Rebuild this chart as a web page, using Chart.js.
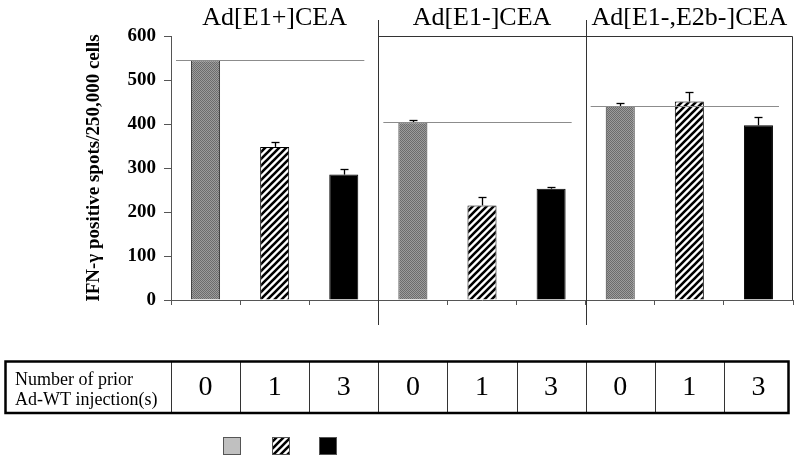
<!DOCTYPE html>
<html><head><meta charset="utf-8">
<script src="https://cdn.jsdelivr.net/npm/chart.js@4/dist/chart.umd.min.js"></script>
<style>html,body{margin:0;padding:0;background:#fff;}#wrap{position:relative;width:800px;height:464px;}</style>
</head><body><div id="wrap"><canvas id="c" width="800" height="464"></canvas></div>
<script>
// ---- data ----
const groups = ["Ad[E1+]CEA", "Ad[E1-]CEA", "Ad[E1-,E2b-]CEA"];
const injections = ["0", "1", "3"];
const spots = [545, 348, 285, 404, 215, 253, 441, 451, 397];
const errUp = [0, 11, 13, 4, 19, 4, 7, 22, 20];
const yTicks = [0, 100, 200, 300, 400, 500, 600];
const rowLabel = ["Number of prior", "Ad-WT injection(s)"];
const yTitle = "IFN-\u03b3 positive spots/250,000 cells";
const labels = groups.flatMap(() => injections);

const SERIF = "'Liberation Serif','Times New Roman',serif";

function makeGray() {
  const c = document.createElement('canvas'); c.width = 2; c.height = 2;
  const g = c.getContext('2d');
  g.fillStyle = '#9c9c9c'; g.fillRect(0, 0, 2, 2);
  g.fillStyle = '#6c6c6c'; g.fillRect(0, 0, 1, 1); g.fillRect(1, 1, 1, 1);
  return g.createPattern(c, 'repeat');
}
function makeHatch() {
  const s = 7;
  const c = document.createElement('canvas'); c.width = s; c.height = s;
  const g = c.getContext('2d');
  g.fillStyle = '#fff'; g.fillRect(0, 0, s, s);
  g.strokeStyle = '#000'; g.lineWidth = 2.6;
  g.beginPath();
  g.moveTo(0, s); g.lineTo(s, 0);
  g.moveTo(-1, 1); g.lineTo(1, -1);
  g.moveTo(s - 1, s + 1); g.lineTo(s + 1, s - 1);
  g.stroke();
  return g.createPattern(c, 'repeat');
}
const grayPat = makeGray();
const hatchPat = makeHatch();
const fills = [grayPat, hatchPat, '#000'];
const borders = ['#333', '#000', '#000'];
const legendFills = ['#c0c0c0', hatchPat, '#000'];

const deco = {
  id: 'deco',
  afterDatasetsDraw(chart) {
    const ctx = chart.ctx, xs = chart.scales.x, ys = chart.scales.y, ca = chart.chartArea;
    const cw = xs.getPixelForValue(1) - xs.getPixelForValue(0);
    const edge = i => xs.getPixelForValue(i) - cw / 2;
    const line = (a, b, c, d) => { ctx.beginPath(); ctx.moveTo(a, b); ctx.lineTo(c, d); ctx.stroke(); };
    ctx.save();
    // error bars
    ctx.strokeStyle = '#000'; ctx.lineWidth = 1.3;
    spots.forEach((v, i) => {
      if (!errUp[i]) return;
      const px = Math.round(xs.getPixelForValue(i)) + 0.5;
      const y0 = ys.getPixelForValue(v), y1 = Math.round(ys.getPixelForValue(v + errUp[i])) + 0.5;
      line(px, y0, px, y1); line(px - 4, y1, px + 4, y1);
    });
    // reference lines at group baseline (0 injections)
    ctx.strokeStyle = '#8c8c8c'; ctx.lineWidth = 1;
    groups.forEach((g, k) => {
      const i0 = k * injections.length;
      const yy = Math.round(ys.getPixelForValue(spots[i0])) + 0.5;
      line(edge(i0) + 5, yy, edge(i0 + injections.length) - 14, yy);
    });
    // panel frames
    ctx.strokeStyle = '#333'; ctx.lineWidth = 1;
    for (let k = 1; k < groups.length; k++) {
      const xx = Math.round(edge(k * injections.length)) + 0.5;
      line(xx, 20, xx, 325);
    }
    const topY = Math.round(ca.top) + 0.5;
    const rx = Math.round(ca.right) - 0.5;
    line(Math.round(edge(injections.length)), topY, rx, topY);
    line(rx, topY, rx, ca.bottom);
    // panel titles
    ctx.fillStyle = '#000'; ctx.font = '26px ' + SERIF; ctx.textAlign = 'center'; ctx.textBaseline = 'alphabetic';
    groups.forEach((g, k) => {
      const a = edge(k * injections.length), b = edge((k + 1) * injections.length);
      ctx.fillText(g, (a + b) / 2, 25);
    });
    // table
    const tTop = 361.5, tBot = 413;
    ctx.strokeStyle = '#333'; ctx.lineWidth = 1;
    for (let i = 0; i < labels.length; i++) {
      const xx = Math.round(edge(i)) + 0.5;
      line(xx, tTop, xx, tBot);
    }
    ctx.strokeStyle = '#000'; ctx.lineWidth = 2.5;
    ctx.strokeRect(5.5, tTop, 783, tBot - tTop);
    ctx.font = '18px ' + SERIF; ctx.textAlign = 'left';
    ctx.fillText(rowLabel[0], 15, 385);
    ctx.fillText(rowLabel[1], 15, 405);
    // legend squares
    const lx = [223, 272, 319];
    lx.forEach((x0, i) => {
      ctx.fillStyle = legendFills[i]; ctx.fillRect(x0, 437, 18, 18);
      ctx.strokeStyle = '#555'; ctx.lineWidth = 1; ctx.strokeRect(x0 + 0.5, 437.5, 17, 17);
    });
    ctx.restore();
  }
};

new Chart(document.getElementById('c'), {
  type: 'bar',
  data: {
    labels: labels,
    datasets: [{
      data: spots,
      backgroundColor: labels.map((l, i) => fills[i % 3]),
      borderColor: labels.map((l, i) => borders[i % 3]),
      borderWidth: 1,
      barPercentage: 0.42,
      categoryPercentage: 1.0
    }]
  },
  options: {
    responsive: false,
    animation: false,
    layout: { padding: { left: 83, right: 7, top: 36, bottom: 0 } },
    plugins: { legend: { display: false }, tooltip: { enabled: false } },
    scales: {
      x: {
        grid: { drawOnChartArea: false, tickLength: 5, color: '#555', offset: true },
        border: { display: true, color: '#555', width: 1 },
        ticks: { color: '#000', font: { family: SERIF, size: 28 }, padding: 66, maxRotation: 0, autoSkip: false },
        afterFit(s) { s.height = 164; s.paddingLeft = 0; s.paddingRight = 0; }
      },
      y: {
        min: 0, max: 600,
        grid: { drawOnChartArea: false, tickLength: 7, color: '#555' },
        border: { display: true, color: '#555', width: 1 },
        afterBuildTicks(s) { s.ticks = yTicks.map(v => ({ value: v })); },
        ticks: { color: '#000', font: { family: SERIF, size: 19, weight: 'bold' }, padding: 8 },
        title: { display: true, text: yTitle, color: '#000', font: { family: SERIF, size: 19, weight: 'bold' }, padding: 0 },
        afterFit(s) { s.width = 88; s.paddingTop = 0; s.paddingBottom = 0; }
      }
    }
  },
  plugins: [deco]
});
</script></body></html>
